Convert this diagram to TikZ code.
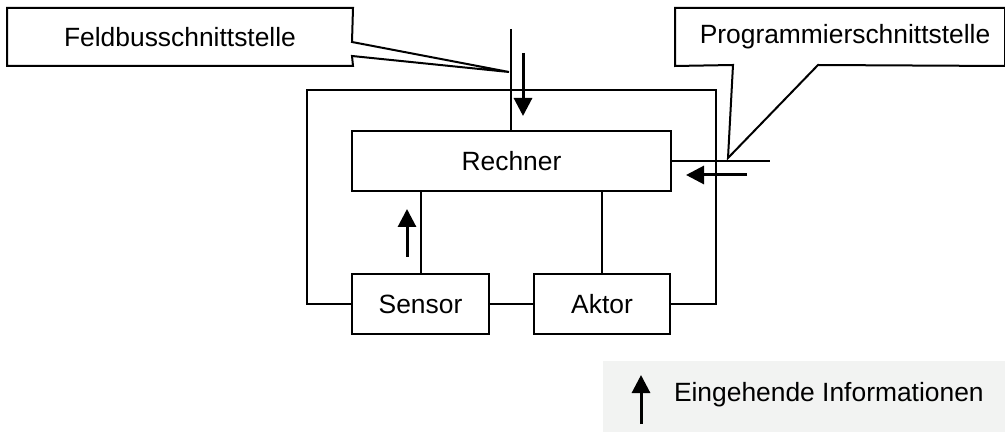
\documentclass[tikz,border=0pt]{standalone}
\usepackage{fontspec}
\setmainfont{Liberation Sans}
\usepackage{xcolor}
\usetikzlibrary{arrows.meta,positioning,calc}
\definecolor{legendgrey}{HTML}{F2F3F2}

\begin{document}
\begin{tikzpicture}[
    x=0.5pt, y=-0.5pt,
    >={Triangle[length=9pt,width=9pt]},
    every node/.style={font=\fontsize{13.2}{16}\selectfont},
    line width=1pt,
    block/.style={draw, rectangle, minimum height=30pt, inner sep=0pt, align=center, line width=1pt},
    label/.style={rectangle, minimum height=28pt, inner sep=0pt, align=center},
    info/.style={->, line width=1.5pt}
]
\useasboundingbox (0,0) rectangle (1005,432);

% --- Blocks ---
\node[block, minimum width=159.5pt] (rechner) at (511.5,161) {Rechner};
\node[block, minimum width=68.5pt] (sensor) at (420.5,304) {Sensor};
\node[block, minimum width=68pt] (aktor) at (602,304) {Aktor};

% --- Callout labels ---
\node[label, minimum width=172pt] (feldbus) at (180,37) {Feldbusschnittstelle};
\node[label, minimum width=164pt] (prog) at (840,37) {\hspace*{5pt}Programmierschnittstelle};
\coordinate (fbtip) at (509,72);
\coordinate (pgtip) at (728,158);
\draw (feldbus.north west) -- (feldbus.north east) -- (352,42) -- (fbtip)
      -- (352,56) -- (feldbus.south east) -- (feldbus.south west) -- cycle;
\draw (prog.north west) -- (prog.north east) -- (prog.south east) -- (818,65)
      -- (pgtip) -- (733,65) -- (prog.south west) -- cycle;

% --- Outer frame ---
\coordinate (frl) at (307,90);
\coordinate (frr) at (716,90);
\draw (sensor.west) -| (frl) -- (frr) |- (aktor.east);
\draw (sensor) -- (aktor);

% --- Internal links ---
\draw (sensor.north) -- (sensor.north |- rechner.south);
\draw (aktor.north) -- (aktor.north |- rechner.south);

% --- Interfaces ---
\coordinate (fbtop) at (511,29);
\coordinate (pgend) at (770,161);
\draw (fbtop) -- (fbtop |- rechner.north);
\draw (rechner.east) -- (pgend);

% --- Incoming information ---
\coordinate (fbin) at (523,53);
\coordinate (pgin) at (747,175);
\coordinate (sensin) at (407,257);
\draw[info] (fbin) -- (523,116);
\draw[info] (pgin) -- (686,175);
\draw[info] (sensin) -- (407,209);

% --- Legend ---
\node[fill=legendgrey, minimum width=201pt, minimum height=35.5pt, inner sep=0pt] (legend) at (804,396.5) {};
\coordinate (legin) at (641,424);
\draw[info] (legin) -- (641,375);
\node[anchor=west, inner sep=0pt] (legtext) at (673,395) {Eingehende Informationen};
\end{tikzpicture}
\end{document}
